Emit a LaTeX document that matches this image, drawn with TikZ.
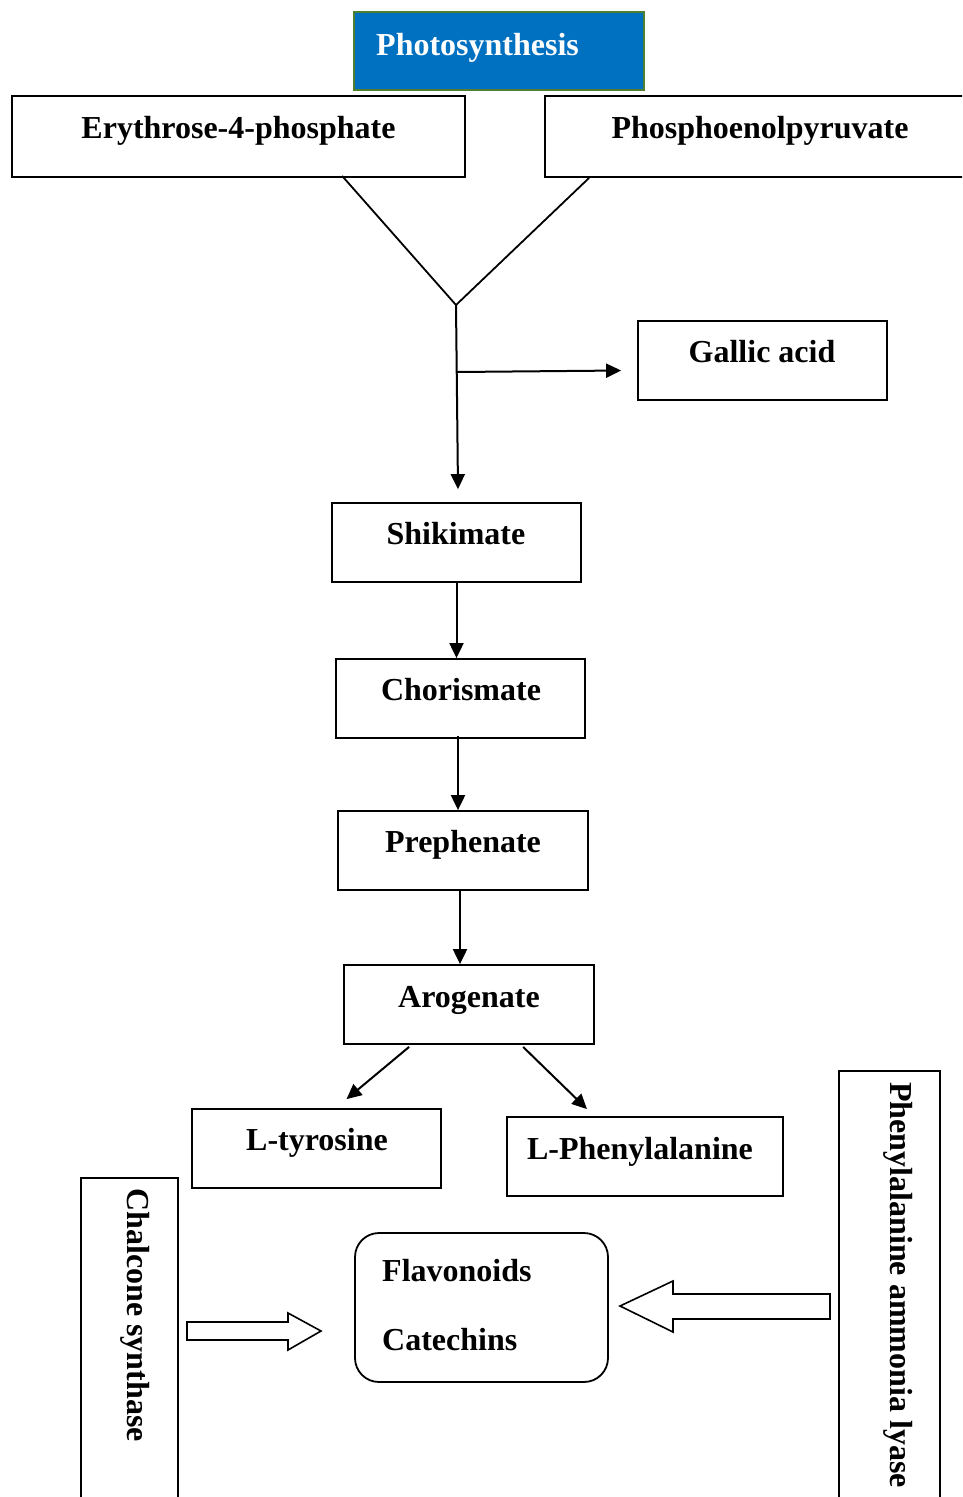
\documentclass[tikz,border=0pt]{standalone}
\usepackage{fontspec}
\setmainfont{Liberation Serif}
\usetikzlibrary{arrows.meta,calc}
\definecolor{psblue}{HTML}{0070C0}
\definecolor{psgreen}{HTML}{4E7F30}
\begin{document}
\begin{tikzpicture}[x=1pt,y=-1pt,
  box/.style={draw=black, line width=1.8pt, fill=white, inner sep=0pt},
  lbl/.style={font=\fontsize{32}{38}\selectfont\bfseries, inner sep=0pt, anchor=base},
  conn/.style={line width=2pt, -{Triangle[length=15pt,width=14pt]}},
  plainline/.style={line width=1.8pt},
  blockarrow/.style={draw=black, line width=1.6pt, fill=white, line join=miter}
]
\useasboundingbox (0,0) rectangle (962,1497);
\clip (0,0) rectangle (962,1497);

% boxes
\node[box, draw=psgreen, fill=psblue, line width=2.5pt, minimum width=290pt, minimum height=78pt] (photo) at (499,51) {};
\node[lbl, anchor=base west, text=white] (photo-t) at (376,55) {Photosynthesis};

\node[box, minimum width=453pt, minimum height=81pt] (e4p) at (238.5,136.5) {};
\node[lbl] (e4p-t) at (238.5,138) {Erythrose-4-phosphate};

\node[box, minimum width=430pt, minimum height=81pt] (pep) at (760,136.5) {};
\node[lbl] (pep-t) at (760,138) {Phosphoenolpyruvate};

\node[box, minimum width=249pt, minimum height=79pt] (gallic) at (762.5,360.5) {};
\node[lbl] (gallic-t) at (762,362) {Gallic acid};

\node[box, minimum width=249pt, minimum height=79pt] (shik) at (456.5,542.5) {};
\node[lbl] (shik-t) at (456,544) {Shikimate};

\node[box, minimum width=249pt, minimum height=79pt] (chor) at (460.5,698.5) {};
\node[lbl] (chor-t) at (461,700) {Chorismate};

\node[box, minimum width=250pt, minimum height=79pt] (preph) at (463,850.5) {};
\node[lbl] (preph-t) at (463,852) {Prephenate};

\node[box, minimum width=250pt, minimum height=79pt] (arog) at (469,1004.5) {};
\node[lbl] (arog-t) at (469,1007) {Arogenate};

\node[box, minimum width=249pt, minimum height=79pt] (tyr) at (316.5,1148.5) {};
\node[lbl] (tyr-t) at (317,1150) {L-tyrosine};

\node[box, minimum width=276pt, minimum height=79pt] (phe) at (645,1156.5) {};
\node[lbl] (phe-t) at (640,1159) {L-Phenylalanine};

\node[box, minimum width=97pt, minimum height=332pt] (chs) at (129.5,1344) {};
\node[lbl, rotate=-90] (chs-t) at (127,1315) {Chalcone synthase};

\node[box, minimum width=101pt, minimum height=439pt] (pal) at (889.5,1290.5) {};
\node[lbl, rotate=-90] (pal-t) at (890,1285) {Phenylalanine ammonia lyase};

\node[box, rounded corners=24pt, minimum width=253pt, minimum height=149pt] (flav) at (481.5,1307.5) {};
\node[lbl, anchor=base west] (flav-t) at (382,1281) {Flavonoids};
\node[lbl, anchor=base west] (cat-t) at (382,1350) {Catechins};

% junction
\coordinate (j) at (456,305);
\coordinate (br) at (457,372);
\coordinate (e4pout) at ($(e4p.south west)+(331,-2)$);
\coordinate (pepout) at ($(pep.south west)+(45,0)$);
\coordinate (shikin) at ($(shik.north)+(1.5,-13)$);
\coordinate (gallicin) at ($(gallic.west)+(-16,10)$);
\draw[plainline] (e4pout) -- (j);
\draw[plainline] (pepout) -- (j);
\draw[conn] (j) -- (shikin);
\draw[conn] (br) -- (gallicin);

% chain
\coordinate (c0) at ($(shik.south)+(0,0)$);
\coordinate (c1) at ($(chor.south)+(-2.5,-3)$);
\coordinate (c2) at ($(preph.south)+(-3,0)$);
\coordinate (t1) at ($(arog.south west)+(66,2)$);
\coordinate (t2) at ($(arog.south west)+(180,2)$);
\coordinate (tyrin) at ($(tyr.north)+(30,-9)$);
\coordinate (phein) at ($(phe.north)+(-58,-7)$);
\draw[conn] (c0) -- (c0 |- chor.north);
\draw[conn] (c1) -- (c1 |- preph.north);
\draw[conn] (c2) -- (c2 |- arog.north);
\draw[conn] (t1) -- (tyrin);
\draw[conn] (t2) -- (phein);

% block arrows
\draw[blockarrow] (187,1322) -- (288,1322) -- (288,1313) -- (321,1331) -- (288,1350) -- (288,1340) -- (187,1340) -- cycle;
\draw[blockarrow] (620,1306) -- (673,1281) -- (673,1294) -- (830,1294) -- (830,1319) -- (673,1319) -- (673,1332) -- cycle;
\end{tikzpicture}
\end{document}
